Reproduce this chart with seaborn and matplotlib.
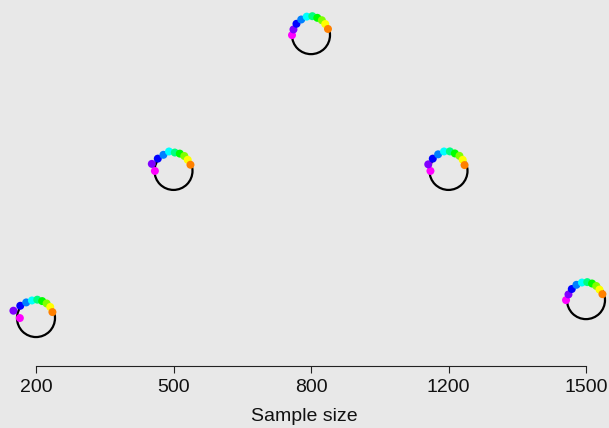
import numpy as np
import pandas as pd
import matplotlib
matplotlib.use("Agg")
import matplotlib.pyplot as plt
import seaborn as sns

# Sample sizes shown along the x axis and the glyph height for each
sample_sizes = ["200", "500", "800", "1200", "1500"]
levels = [0.131, 0.533, 0.904, 0.533, 0.180]

# Angular position (degrees) of each coloured point on a glyph
point_angles = [180, 162, 142, 122, 103, 86, 70, 54, 38, 20]
# Radial position of each point, relative to the glyph circle radius
point_radii = {
    "200":  [0.85, 1.25, 1.05, 0.97, 0.95, 0.97, 0.95, 0.95, 0.95, 0.92],
    "500":  [0.98, 1.20, 1.05, 1.00, 1.05, 0.97, 0.97, 0.97, 0.95, 0.95],
    "800":  [1.00, 0.97, 0.97, 0.97, 1.00, 1.00, 0.97, 0.97, 0.95, 0.95],
    "1200": [0.95, 1.12, 1.05, 1.03, 1.05, 1.03, 0.98, 0.98, 0.95, 0.90],
    "1500": [1.05, 0.97, 0.95, 0.95, 0.95, 0.95, 0.93, 0.92, 0.90, 0.92],
}
# Rainbow hues from magenta round to orange
point_colors = ["#FF00FF", "#8000FF", "#0000FF", "#0080FF", "#00FFFF",
                "#00FF80", "#00FF00", "#80FF00", "#FFFF00", "#FF8000"]

BG = "#E8E8E8"
DPI = 100
W, H = 609, 428
RADIUS_PX = 19.0      # glyph circle radius in pixels
DOT_PX = 8.0          # point diameter in pixels

sns.set_theme(style="white")
plt.rcParams["font.family"] = ["Liberation Sans", "DejaVu Sans"]

fig = plt.figure(figsize=(W / DPI, H / DPI), dpi=DPI, facecolor=BG)
ax = fig.add_axes([0, 62 / H, 1, 1 - 62 / H])
ax.set_facecolor(BG)

x_pos = np.arange(len(sample_sizes))
ax.set_xlim(-36 / 137.5, (W - 36) / 137.5)
ax.set_ylim(0, 1)

centers = pd.DataFrame({"x": x_pos, "y": levels, "size": sample_sizes})

# Circle outlines
circ_pt = 2 * RADIUS_PX * 72 / DPI
sns.scatterplot(data=centers, x="x", y="y", ax=ax, s=circ_pt ** 2,
                marker="o", facecolor="none", edgecolor="black",
                linewidth=1.6, legend=False, zorder=2)

# Coloured points placed around each circle (offsets in pixels)
fig.canvas.draw()
to_px = ax.transData
to_data = ax.transData.inverted()
rows = []
for xi, yi, name in zip(x_pos, levels, sample_sizes):
    cx, cy = to_px.transform((xi, yi))
    for k, (ang, rr) in enumerate(zip(point_angles, point_radii[name])):
        t = np.deg2rad(ang)
        px = cx + rr * RADIUS_PX * np.cos(t)
        py = cy + rr * RADIUS_PX * np.sin(t)
        dx, dy = to_data.transform((px, py))
        rows.append({"x": dx, "y": dy, "k": k})
pts = pd.DataFrame(rows)
dot_pt = DOT_PX * 72 / DPI
sns.scatterplot(data=pts, x="x", y="y", hue="k", palette=point_colors,
                ax=ax, s=dot_pt ** 2, linewidth=0, legend=False, zorder=3)

# R-style axis: bottom line only between the first and last ticks
for side in ["top", "right", "left"]:
    ax.spines[side].set_visible(False)
ax.spines["bottom"].set_bounds(x_pos[0], x_pos[-1])
ax.spines["bottom"].set_color("#222222")
ax.spines["bottom"].set_linewidth(0.8)
ax.set_xticks(x_pos)
ax.set_xticklabels(sample_sizes, fontsize=14, color="#111111")
ax.tick_params(axis="x", bottom=True, length=5, width=0.8,
               color="#222222", pad=4.5)
ax.set_yticks([])
ax.set_xlabel("Sample size", fontsize=14, color="#111111", labelpad=8.5)
ax.set_ylabel("")

fig.savefig("out.png", dpi=DPI, facecolor=BG)
